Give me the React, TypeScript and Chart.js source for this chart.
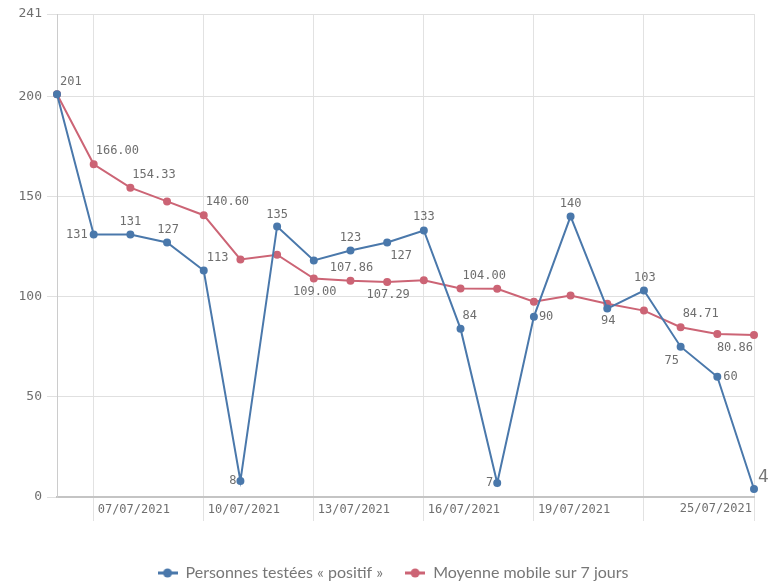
import React, { useEffect, useRef } from 'react';
import { Chart, registerables } from 'chart.js';

Chart.register(...registerables);

// ---- data ----
const dates = [
  '06/07/2021', '07/07/2021', '08/07/2021', '09/07/2021', '10/07/2021',
  '11/07/2021', '12/07/2021', '13/07/2021', '14/07/2021', '15/07/2021',
  '16/07/2021', '17/07/2021', '18/07/2021', '19/07/2021', '20/07/2021',
  '21/07/2021', '22/07/2021', '23/07/2021', '24/07/2021', '25/07/2021',
];
const positifs = [201, 131, 131, 127, 113, 8, 135, 118, 123, 127, 133, 84, 7, 90, 140, 94, 103, 75, 60, 4];
const moyenne = [201, 166.0, 154.33, 147.5, 140.6, 118.5, 120.86, 109.0, 107.86, 107.29, 108.14, 104.0, 103.86, 97.43, 100.57, 96.43, 93.0, 84.71, 81.29, 80.86];
const yTickValues = [0, 50, 100, 150, 200, 241];
const shownDates = ['07/07/2021', '10/07/2021', '13/07/2021', '16/07/2021', '19/07/2021'];
const lastDateLabel = '25/07/2021';
const seriesNames = ['Personnes testées « positif »', 'Moyenne mobile sur 7 jours'];

// ---- label placement (style config, not data) ----
type Place = [number, number, CanvasTextAlign];
const bluePlaces: Record<number, Place> = {
  0: [3, -12, 'left'], 1: [-6, 0, 'right'], 2: [0, -13, 'center'], 3: [1, -13, 'center'],
  4: [3, -13, 'left'], 5: [-4, 0, 'right'], 6: [0, -12, 'center'], 8: [0, -13, 'center'],
  9: [14, 13, 'center'], 10: [0, -14, 'center'], 11: [2, -13, 'left'], 12: [-4, 0, 'right'],
  13: [5, 0, 'left'], 14: [0, -13, 'center'], 15: [1, 12, 'center'], 16: [1, -13, 'center'],
  17: [-9, 14, 'center'], 18: [6, 0, 'left'],
};
const redPlaces: Record<number, Place> = {
  1: [2, -13, 'left'], 2: [2, -13, 'left'], 4: [2, -13, 'left'], 7: [1, 13, 'center'],
  8: [1, -13, 'center'], 9: [1, 13, 'center'], 11: [2, -13, 'left'], 17: [2, -13, 'left'],
  19: [-1, 13, 'right'],
};

const BLUE = '#4a78ab';
const RED = '#cc6475';
const TEXT = '#6e6e6e';
const MONO = '"DejaVu Sans Mono", monospace';

function markerImg(color: string) {
  const c = document.createElement('canvas');
  c.width = 20;
  c.height = 10;
  const g = c.getContext('2d')!;
  g.strokeStyle = color;
  g.lineWidth = 3;
  g.beginPath();
  g.moveTo(0, 5);
  g.lineTo(20, 5);
  g.stroke();
  g.fillStyle = color;
  g.beginPath();
  g.arc(10, 5, 4.5, 0, Math.PI * 2);
  g.fill();
  return c;
}

const legendShift = {
  id: 'legendShift',
  afterLayout(chart: any) {
    if (chart.legend) chart.legend.left += 32;
  },
};

const labelsPlugin = {
  id: 'pointLabels',
  afterDatasetsDraw(chart: any) {
    const ctx = chart.ctx as CanvasRenderingContext2D;
    ctx.save();
    ctx.textBaseline = 'middle';
    ctx.fillStyle = TEXT;
    const draw = (dsIndex: number, places: Record<number, Place>, fmt: (v: number) => string) => {
      const meta = chart.getDatasetMeta(dsIndex);
      const values = chart.data.datasets[dsIndex].data as number[];
      Object.keys(places).forEach((k) => {
        const i = Number(k);
        const pt = meta.data[i];
        if (!pt) return;
        const [dx, dy, align] = places[i];
        ctx.textAlign = align;
        ctx.font = '12px ' + MONO;
        ctx.fillText(fmt(values[i]), pt.x + dx, pt.y + dy);
      });
    };
    draw(0, bluePlaces, (v) => String(v));
    draw(1, redPlaces, (v) => v.toFixed(2));
    // last positive value in bigger font
    const meta0 = chart.getDatasetMeta(0);
    const last = meta0.data.length - 1;
    const lp = meta0.data[last];
    ctx.font = '17px "DejaVu Sans", sans-serif';
    ctx.textAlign = 'left';
    ctx.fillStyle = '#777777';
    ctx.fillText(String(positifs[last]), lp.x + 4, lp.y - 11);
    // last x tick label, right aligned on its grid line
    const xs = chart.scales.x;
    ctx.font = '12px ' + MONO;
    ctx.fillStyle = TEXT;
    ctx.textAlign = 'right';
    ctx.fillText(lastDateLabel, xs.getPixelForValue(dates.length - 1) - 2, chart.chartArea.bottom + 12);
    ctx.restore();
  },
};

export default function App() {
  const ref = useRef<HTMLCanvasElement | null>(null);
  useEffect(() => {
    document.body.style.margin = '0';
    if (!ref.current) return;
    const chart = new Chart(ref.current, {
      type: 'line',
      data: {
        labels: dates,
        datasets: [
          {
            label: seriesNames[0],
            data: positifs,
            borderColor: BLUE,
            backgroundColor: BLUE,
            borderWidth: 2,
            pointRadius: 3,
            pointHoverRadius: 3,
            tension: 0,
          },
          {
            label: seriesNames[1],
            data: moyenne,
            borderColor: RED,
            backgroundColor: RED,
            borderWidth: 2,
            pointRadius: 3,
            pointHoverRadius: 3,
            tension: 0,
          },
        ],
      },
      options: {
        animation: false,
        responsive: false,
        maintainAspectRatio: false,
        layout: { padding: { top: 14, right: 29, left: 0, bottom: -4 } },
        scales: {
          x: {
            type: 'category',
            offset: false,
            afterFit: (s: any) => { s.height = 46; },
            border: { display: true, color: '#c4c4c4', width: 2 },
            grid: {
              color: (c: any) => (c.index % 3 === 1 ? '#e2e2e2' : 'rgba(0,0,0,0)'),
              tickLength: 24,
              drawTicks: true,
            },
            ticks: {
              autoSkip: false,
              maxRotation: 0,
              minRotation: 0,
              align: 'start',
              labelOffset: 4,
              padding: -18,
              color: TEXT,
              font: { family: MONO, size: 12 },
              callback: (_v: any, i: number) => (shownDates.includes(dates[i]) ? dates[i] : ''),
            },
          },
          y: {
            min: 0,
            max: 241,
            afterFit: (s: any) => { s.width = 57; },
            afterBuildTicks: (s: any) => { s.ticks = yTickValues.map((v) => ({ value: v })); },
            border: { display: true, color: '#cccccc', width: 1 },
            grid: { color: '#e0e0e0', tickLength: 10 },
            ticks: {
              color: TEXT,
              padding: 5,
              font: { family: MONO, size: 13 },
            },
          },
        },
        plugins: {
          tooltip: { enabled: false },
          legend: {
            position: 'bottom',
            labels: {
              usePointStyle: true,
              pointStyleWidth: 20,
              padding: 22,
              color: '#777777',
              font: { family: 'Lato', size: 16 },
              generateLabels: (ch: any) =>
                Chart.defaults.plugins.legend.labels.generateLabels(ch).map((l: any, i: number) => ({
                  ...l,
                  pointStyle: markerImg(i === 0 ? BLUE : RED),
                })),
            },
          },
        },
      },
      plugins: [legendShift, labelsPlugin],
    } as any);
    return () => chart.destroy();
  }, []);
  return (
    <div style={{ width: 783, height: 587 }}>
      <canvas ref={ref} width={783} height={587} style={{ width: 783, height: 587, display: 'block' }} />
    </div>
  );
}
